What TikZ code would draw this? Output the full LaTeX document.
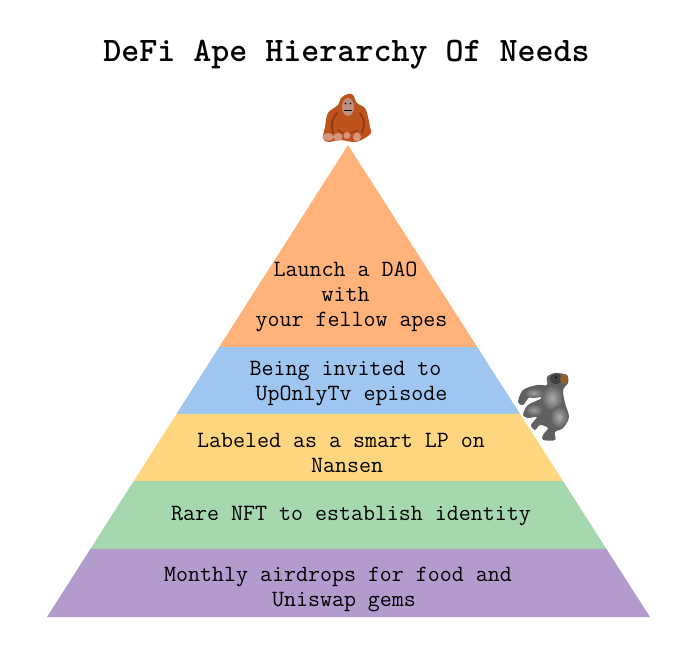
\documentclass[tikz,border=0pt]{standalone}
\usetikzlibrary{calc}
\definecolor{bandorange}{RGB}{255,178,122}
\definecolor{bandblue}{RGB}{158,198,240}
\definecolor{bandyellow}{RGB}{255,214,128}
\definecolor{bandgreen}{RGB}{165,216,174}
\definecolor{bandpurple}{RGB}{179,155,206}
\definecolor{apefur}{RGB}{190,82,28}
\definecolor{apedark}{RGB}{140,56,18}
\definecolor{apeskin}{RGB}{214,150,125}
\definecolor{gorfur}{RGB}{96,96,96}
\definecolor{gorlight}{RGB}{172,172,172}
\tikzset{
	bandlabel/.style={font=\ttfamily\fontsize{23.3}{25}\selectfont, align=center, text=black, inner sep=0pt},
	furline/.style={line cap=round, line join=round},
}
\newcommand{\trail}{\hphantom{x}}
\begin{document}
\begin{tikzpicture}[x=1pt, y=-1pt]
		\useasboundingbox (0,0) rectangle (694,652);
		\coordinate (T) at (348,145);
		\coordinate (A) at ($(T)!0.4280!(47,617)$);
		\coordinate (B) at ($(T)!0.4280!(650,617)$);
		\coordinate (C) at ($(T)!0.5699!(47,617)$);
		\coordinate (D) at ($(T)!0.5699!(650,617)$);
		\coordinate (E) at ($(T)!0.7119!(47,617)$);
		\coordinate (F) at ($(T)!0.7119!(650,617)$);
		\coordinate (G) at ($(T)!0.8559!(47,617)$);
		\coordinate (H) at ($(T)!0.8559!(650,617)$);
		\coordinate (I) at (47,617);
		\coordinate (J) at (650,617);
		\fill[bandorange] (T) -- (A) -- (B) --cycle;	% Top band
		\fill[bandblue] (A) -- (C) -- (D) -- (B) --cycle;
		\fill[bandyellow] (C) -- (E) -- (F) -- (D) --cycle;
		\fill[bandgreen] (E) -- (G) -- (H) -- (F) --cycle;
		\fill[bandpurple] (G) -- (I) -- (J) -- (H) --cycle;	% Bottom band
		\node[font=\ttfamily\bfseries\fontsize{34.3}{36}\selectfont, inner sep=0pt] (title) at (346.5,55) {DeFi Ape Hierarchy Of Needs};
		\node[bandlabel] (dao) at (351.5,296.5) {Launch a DAO\trail\\with\trail\\your fellow apes};
		\node[bandlabel] (upon) at (351.5,384) {Being invited to\trail\\UpOnlyTv episode};
		\node[bandlabel] (smart) at (347,453) {Labeled as a smart LP on\trail\\Nansen};
		\node[bandlabel] (nft) at (351,516.5) {Rare NFT to establish identity};
		\node[bandlabel] (drop) at (344,589) {Monthly airdrops for food and\trail\\Uniswap gems};
		% Orangutan on the top
		\begin{scope}[furline]
			\fill[apefur] plot[smooth cycle, tension=0.6] coordinates {(348,94) (353,95) (357,103) (365,108) (368,117) (370,127) (371,133) (365,138) (355,142) (340,140) (328,142) (323,138) (325,127) (328,113) (338,105) (341,98)};
			\draw[apedark, line width=1.6pt] (337,113) .. controls (331,122) .. (333,133);
			\draw[apedark, line width=1.6pt] (360,113) .. controls (365,122) .. (362,133);
			\draw[apedark, line width=1pt] (338,130) .. controls (347,135) .. (358,130);
			\fill[apeskin!70!gray] (348,107) ellipse (6 and 9);
			\fill[black] (345.5,103.5) circle (0.9) (350.5,103.5) circle (0.9);
			\draw[black, line width=0.8pt] (344.5,110.5) -- (351.5,110.5);
			\fill[apeskin] (328,137) ellipse (5.5 and 4) (338,137) ellipse (4.5 and 4) (347,135.5) ellipse (3.5 and 3.5) (357,137) ellipse (4 and 4.5);
		\end{scope}
		% Gorilla on the side
		\begin{scope}[furline]
			\fill[gorfur] plot[smooth cycle, tension=0.5] coordinates {(567,375) (568,383) (563,390) (565,403) (569,417) (563,428) (555,432) (555,440) (543,440) (543,435) (548,428) (540,425) (535,430) (531,425) (537,417) (528,418) (523,415) (528,405) (542,398) (530,397) (523,405) (518,402) (523,390) (537,385) (547,385) (547,377) (555,373)};
			\shade[inner color=gorlight, outer color=gorfur] (552,398) ellipse (11 and 13);
			\shade[inner color=gorlight, outer color=gorfur] (559,417) ellipse (9 and 11);
			\shade[inner color=gorlight!80!gorfur, outer color=gorfur] (534,393) ellipse (10 and 5);
			\shade[inner color=gorlight!80!gorfur, outer color=gorfur] (534,410) ellipse (9 and 6);
			\fill[black!75] (556,379) ellipse (6 and 5);
			\fill[brown!75!black] (564,379) ellipse (4 and 5);
			\fill[black] (556,377.5) circle (1);
		\end{scope}
	\end{tikzpicture}
\end{document}
